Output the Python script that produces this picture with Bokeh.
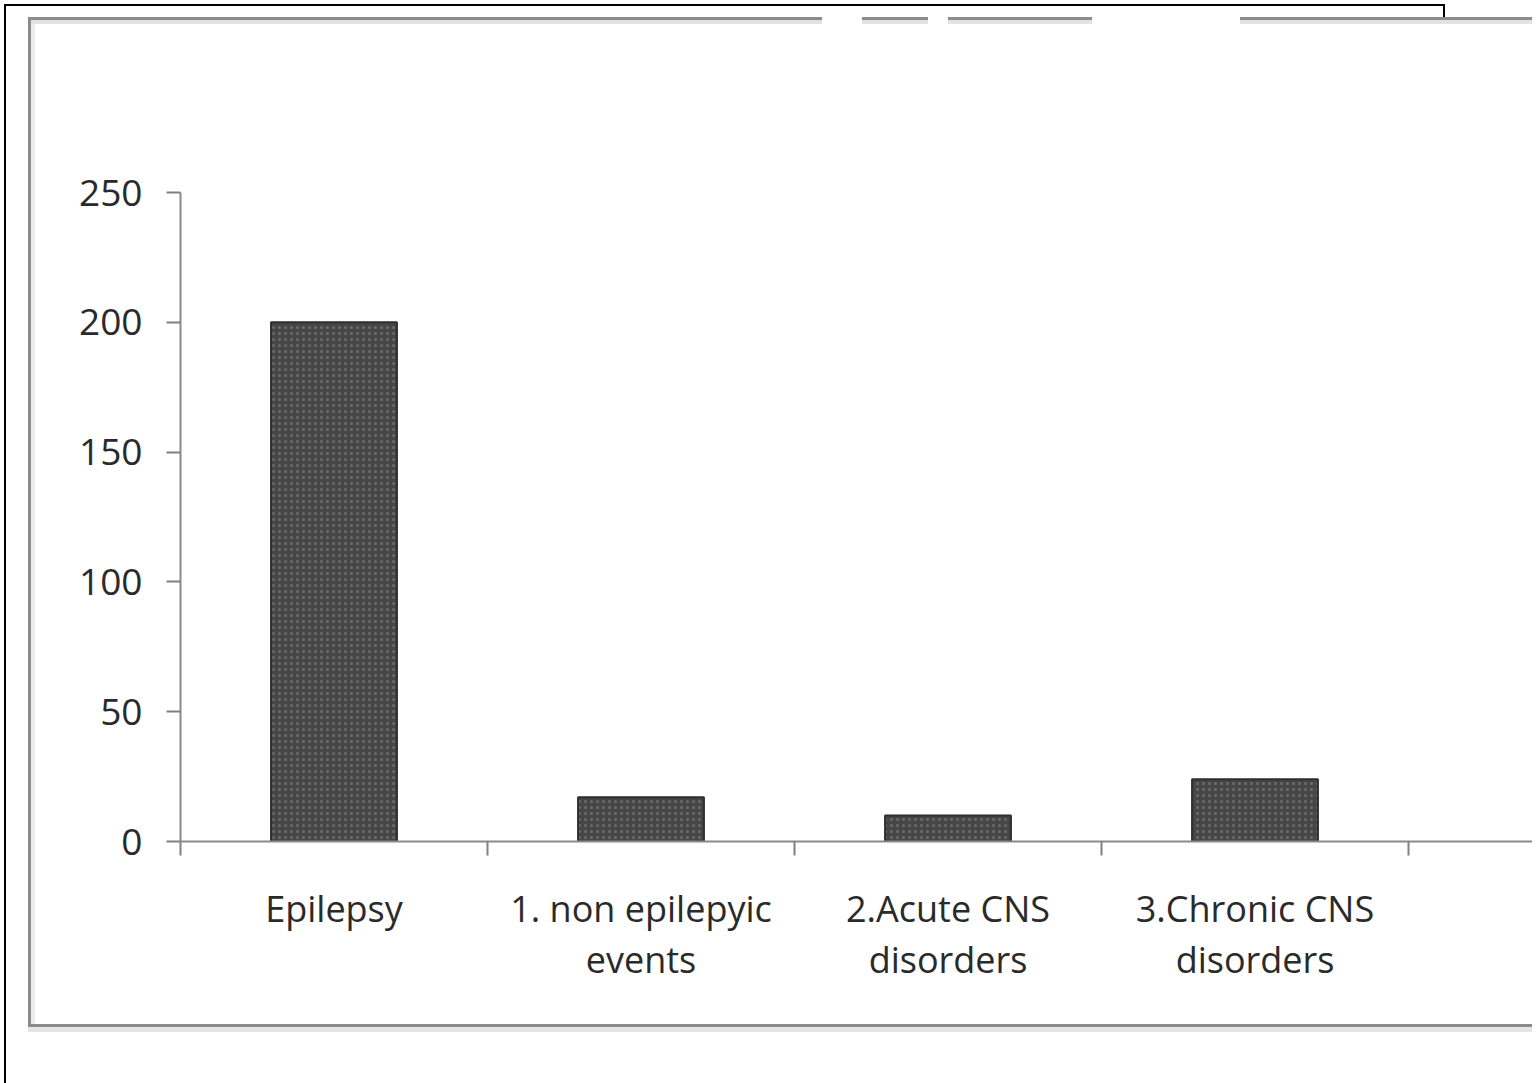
from bokeh.plotting import figure
from bokeh.models import Range1d, FixedTicker, ColumnDataSource, InlineStyleSheet
from bokeh.embed import file_html
from bokeh.resources import INLINE

categories = ["Epilepsy", "1. non epilepyic\nevents", "2.Acute CNS\ndisorders", "3.Chronic CNS\ndisorders"]
counts = [200, 17, 10, 24]
y_ticks = [0, 50, 100, 150, 200, 250]

W, H = 1532, 1075
FONT = "Open Sans"

positions = [i + 0.5 for i in range(len(categories))]
src = ColumnDataSource(dict(x=positions, top=counts))

frame_css = """
:host { position: relative; }
:host::before {
  content: ""; position: absolute; z-index: 10; pointer-events: none;
  left: 4px; top: 4px; width: 1441px; height: 1100px; box-sizing: border-box;
  border-top: 2px solid #000; border-left: 2px solid #000;
  background: linear-gradient(#000, #000) no-repeat right top / 2px 12px;
}
:host::after {
  content: ""; position: absolute; z-index: 10; pointer-events: none;
  left: 28px; top: 17px; width: 1504px; height: 1010px; box-sizing: border-box;
  border-left: 3px solid #8c8c8c; border-bottom: 3px solid #8c8c8c;
  box-shadow: 0 5px 0 #e6e6e6;
  background:
    linear-gradient(to right, #8c8c8c 0 791px, transparent 791px 831px,
                    #8c8c8c 831px 897px, transparent 897px 917px,
                    #8c8c8c 917px 1061px, transparent 1061px 1209px,
                    #8c8c8c 1209px) no-repeat left top / 100% 3px,
    linear-gradient(to right, #e2e2e2 0 791px, transparent 791px 831px,
                    #e2e2e2 831px 897px, transparent 897px 917px,
                    #e2e2e2 917px 1061px, transparent 1061px 1209px,
                    #e2e2e2 1209px) no-repeat left 3px / 100% 4px,
    linear-gradient(#ededed, #ededed) no-repeat left top / 4px 100%;
}
"""

p = figure(width=W, height=H, output_backend="svg", toolbar_location=None,
           x_range=Range1d(0, (W - 180) / 307), y_range=Range1d(0, 250),
           min_border_left=180, min_border_right=0, min_border_top=192,
           min_border_bottom=H - 192 - 649)
p.stylesheets = [InlineStyleSheet(css=frame_css)]
p.outline_line_color = None
p.xgrid.visible = False
p.ygrid.visible = False
p.background_fill_color = "white"
p.border_fill_color = "white"

p.vbar(x="x", top="top", bottom=0, width=0.41, source=src,
       fill_color="#464646", line_color="#2e2e2e", line_width=2,
       hatch_pattern="dot", hatch_color="#6c6c6c", hatch_scale=6, hatch_weight=1.2)

# axes
xa = p.xaxis[0]
xa.ticker = FixedTicker(ticks=positions, minor_ticks=list(range(len(categories) + 1)))
xa.major_label_overrides = {pos: lab for pos, lab in zip(positions, categories)}
xa.major_tick_line_color = None
xa.major_tick_out = 0
xa.major_tick_in = 0
xa.minor_tick_out = 14
xa.minor_tick_in = 0
xa.minor_tick_line_color = "#808080"
xa.minor_tick_line_width = 2
xa.axis_line_color = "#8a8a8a"
xa.axis_line_width = 2
xa.major_label_text_font = FONT
xa.major_label_text_font_size = "36px"
xa.major_label_text_color = "#2a2a2a"
xa.major_label_standoff = 28
xa.major_label_text_line_height = 1.05

ya = p.yaxis[0]
ya.ticker = FixedTicker(ticks=y_ticks)
ya.minor_tick_line_color = None
ya.major_tick_out = 14
ya.major_tick_in = 0
ya.major_tick_line_color = "#808080"
ya.major_tick_line_width = 2
ya.axis_line_color = "#8a8a8a"
ya.axis_line_width = 2
ya.major_label_text_font = FONT
ya.major_label_text_font_size = "37px"
ya.major_label_text_color = "#2a2a2a"
ya.major_label_standoff = 24

open("out.html", "w").write(file_html(p, INLINE))
